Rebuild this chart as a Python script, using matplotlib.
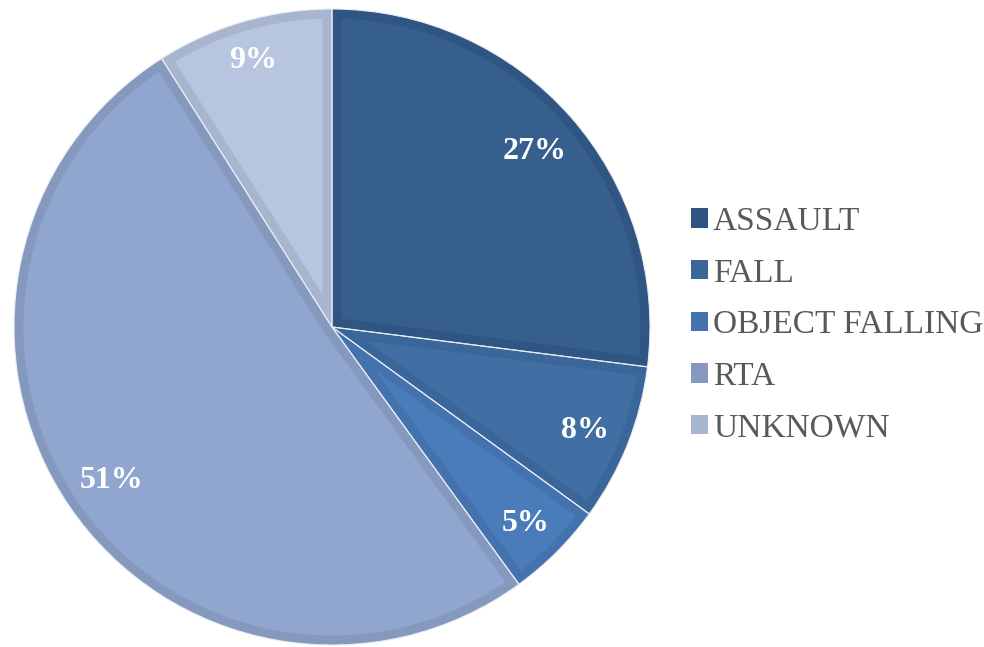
import matplotlib
matplotlib.use("Agg")
import matplotlib.pyplot as plt
from matplotlib.patches import Patch, Polygon
import numpy as np

categories = ["ASSAULT", "FALL", "OBJECT FALLING", "RTA", "UNKNOWN"]
values = [27, 8, 5, 51, 9]
labels_pct = ["27%", "8%", "5%", "51%", "9%"]
face_colors = ["#375F8D", "#416FA4", "#4A7CB9", "#91A6CE", "#B8C5DE"]
edge_colors = ["#2F5583", "#3A6699", "#4372AE", "#8599BF", "#A8B5CE"]
label_dist = [0.85, 0.855, 0.86, 0.84, 0.885]

plt.rcParams['font.family'] = ['Liberation Serif', 'DejaVu Serif']

fig = plt.figure(figsize=(9.84, 6.47), dpi=100)
R = 318
cx, cy = 332, 327
ax = fig.add_axes([(cx - R) / 984, (647 - cy - R) / 647, 2 * R / 984, 2 * R / 647])

# base wedges in border colour
wedges, _ = ax.pie(values, colors=edge_colors, startangle=90, counterclock=False,
                   radius=1, wedgeprops=dict(linewidth=0))


def inset_wedge(a1, a2, radius, d):
    a1, a2 = np.deg2rad(a1), np.deg2rad(a2)
    s = a2 - a1
    r = radius - d
    n1 = np.array([-np.sin(a1), np.cos(a1)])
    n2 = np.array([np.sin(a2), -np.cos(a2)])
    da = np.arcsin(d / r)
    arc = np.linspace(a1 + da, a2 - da, 200)
    arc_pts = np.column_stack([r * np.cos(arc), r * np.sin(arc)])
    if s < np.pi:
        b = (a1 + a2) / 2
        P = d / np.sin(s / 2) * np.array([np.cos(b), np.sin(b)])
        pts = np.vstack([P, arc_pts, P])
    else:
        small = np.linspace(a2 - np.pi / 2, a1 + np.pi / 2, 30)
        small_pts = np.column_stack([d * np.cos(small), d * np.sin(small)])
        pts = np.vstack([d * n1, arc_pts, d * n2, small_pts])
    return pts


border = 9.5 / R
for w, fc in zip(wedges, face_colors):
    pts = inset_wedge(w.theta1, w.theta2, w.r, border)
    ax.add_patch(Polygon(pts, closed=True, facecolor=fc, edgecolor='none'))

# thin light separators
ax.pie(values, colors=['none'] * len(values), startangle=90, counterclock=False,
       radius=1, wedgeprops=dict(linewidth=0.8, edgecolor='#E8ECF3', fill=False))

ax.set_xlim(-1, 1)
ax.set_ylim(-1, 1)
ax.set_aspect('equal')
ax.axis('off')

cum = np.cumsum([0] + values[:-1])
for v, c0, lab, d in zip(values, cum, labels_pct, label_dist):
    ang = np.deg2rad(90 - (c0 + v / 2) * 3.6)
    ax.text(d * np.cos(ang), d * np.sin(ang), lab, ha='center', va='center_baseline',
            fontsize=23, fontweight='bold', color='white')

handles = [Patch(facecolor=ec, edgecolor='none') for ec in edge_colors]
fig.legend(handles, categories, loc='center left', bbox_to_anchor=(691 / 984, 1 - 325 / 647),
           frameon=False, fontsize=24, labelcolor='#595959',
           handlelength=0.51, handleheight=0.51, handletextpad=0.15,
           labelspacing=0.635, borderpad=0, borderaxespad=0)

fig.savefig("out.png", dpi=100)
